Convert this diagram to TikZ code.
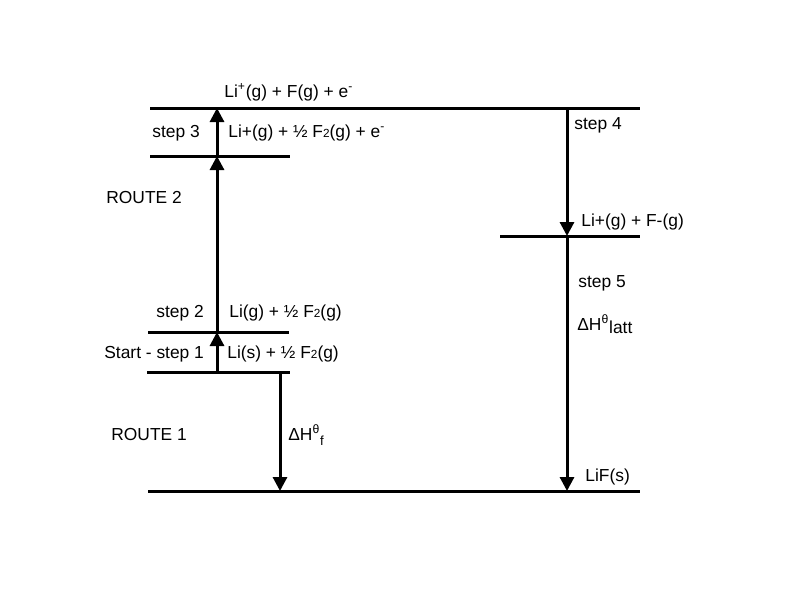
\documentclass[tikz,border=0pt]{standalone}
\usepackage{fontspec}
\setmainfont{Liberation Sans}
\usetikzlibrary{arrows.meta}
\newcommand{\smtwo}{{\fontsize{6.7}{7}\selectfont 2}}
\begin{document}
\begin{tikzpicture}[x=0.02cm,y=-0.02cm,
  level/.style={line width=0.06cm},
  conn/.style={line width=0.06cm,-{Triangle[length=0.28cm,width=0.28cm]}},
  lbl/.style={anchor=base west,inner sep=0pt,font=\fontsize{9.9}{11}\selectfont}]
\useasboundingbox (0,0) rectangle (800,600);
% level end points
\coordinate (t0) at (150,108); \coordinate (t1) at (640,108);
\coordinate (c0) at (150,156); \coordinate (c1) at (290,156);
\coordinate (g0) at (148,332); \coordinate (g1) at (289,332);
\coordinate (s0) at (147,372); \coordinate (s1) at (290,372);
\coordinate (m0) at (500,236); \coordinate (m1) at (640,236);
\coordinate (b0) at (148,491); \coordinate (b1) at (640,491);
% arrow points
\coordinate (a1) at (217,372); \coordinate (a2) at (217,332);
\coordinate (a3) at (217,156); \coordinate (a4) at (217,108);
\coordinate (r1) at (567,108); \coordinate (r2) at (567,236); \coordinate (r3) at (567,491);
\coordinate (d1) at (280,372); \coordinate (d2) at (280,491);
% levels
\draw[level] (t0) -- (t1);
\draw[level] (c0) -- (c1);
\draw[level] (g0) -- (g1);
\draw[level] (s0) -- (s1);
\draw[level] (m0) -- (m1);
\draw[level] (b0) -- (b1);
% arrows
\draw[conn] (a1) -- (a2);
\draw[conn] (a2) -- (a3);
\draw[conn] (a3) -- (a4);
\draw[conn] (r1) -- (r2);
\draw[conn] (r2) -- (r3);
\draw[conn] (d1) -- (d2);
% labels
\node[lbl] (ltop) at (224,97) {Li\textsuperscript{+}(g) + F(g) + e\textsuperscript{-}};
\node[lbl] (lst3) at (152,137) {step 3};
\node[lbl] (lion) at (228,137) {Li+(g) + ½ F\smtwo(g) + e\textsuperscript{-}};
\node[lbl] (lst4) at (574,129) {step 4};
\node[lbl] (lr2) at (106,203) {ROUTE 2};
\node[lbl] (lions) at (581,226) {Li+(g) + F-(g)};
\node[lbl] (lst5) at (578,287) {step 5};
\node[lbl] (llatt) at (577,330) {ΔH\textsuperscript{θ}\raisebox{-0.4ex}{latt}};
\node[lbl] (lst2) at (156,317) {step 2};
\node[lbl] (lgas) at (229,317) {Li(g) + ½ F\smtwo(g)};
\node[lbl] (lst1) at (104,358) {Start - step 1};
\node[lbl] (lsol) at (227,358) {Li(s) + ½ F\smtwo(g)};
\node[lbl] (lr1) at (111,440) {ROUTE 1};
\node[lbl] (lf) at (288,440) {ΔH\textsuperscript{θ}\raisebox{-0.6ex}{\fontsize{7.5}{8}\selectfont f}};
\node[lbl] (llif) at (585,481) {LiF(s)};
\end{tikzpicture}
\end{document}
